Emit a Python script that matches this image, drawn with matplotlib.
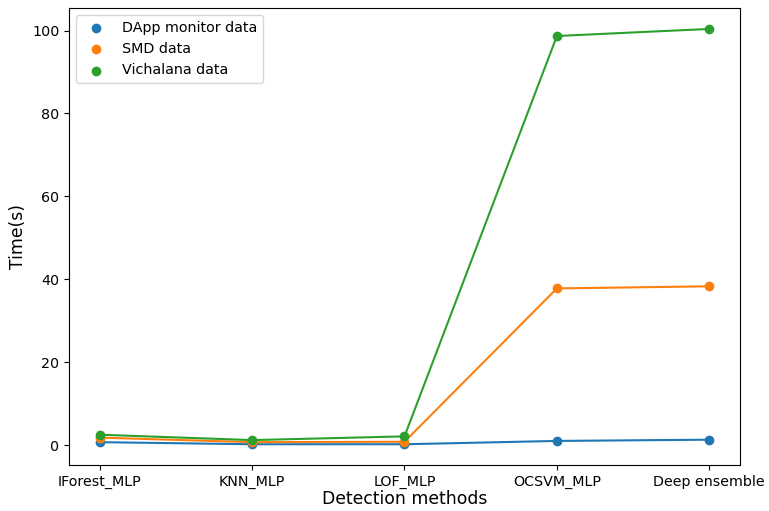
import matplotlib
matplotlib.use("Agg")
import matplotlib.pyplot as plt

methods = ["IForest_MLP", "KNN_MLP", "LOF_MLP", "OCSVM_MLP", "Deep ensemble"]
dapp = [0.7, 0.2, 0.2, 1.0, 1.3]
smd = [1.8, 0.7, 0.8, 37.8, 38.3]
vichalana = [2.5, 1.2, 2.1, 98.7, 100.4]

fig, ax = plt.subplots(figsize=(7.69, 5.11), dpi=100)
fig.subplots_adjust(left=0.09, right=0.962, top=0.984, bottom=0.09)

x = range(len(methods))
for vals, label, color in [(dapp, "DApp monitor data", "C0"),
                           (smd, "SMD data", "C1"),
                           (vichalana, "Vichalana data", "C2")]:
    ax.scatter(x, vals, color=color, label=label, zorder=3)
    ax.plot(x, vals, color=color)

ax.set_xticks(list(x))
ax.set_xticklabels(methods, fontsize=10.3)
ax.tick_params(axis="y", labelsize=10.3)
ax.set_xlabel("Detection methods", fontsize=12.4, labelpad=1)
ax.set_ylabel("Time(s)", fontsize=12.4)
ax.legend(loc="upper left", fontsize=10.3)

fig.savefig("out.png")
